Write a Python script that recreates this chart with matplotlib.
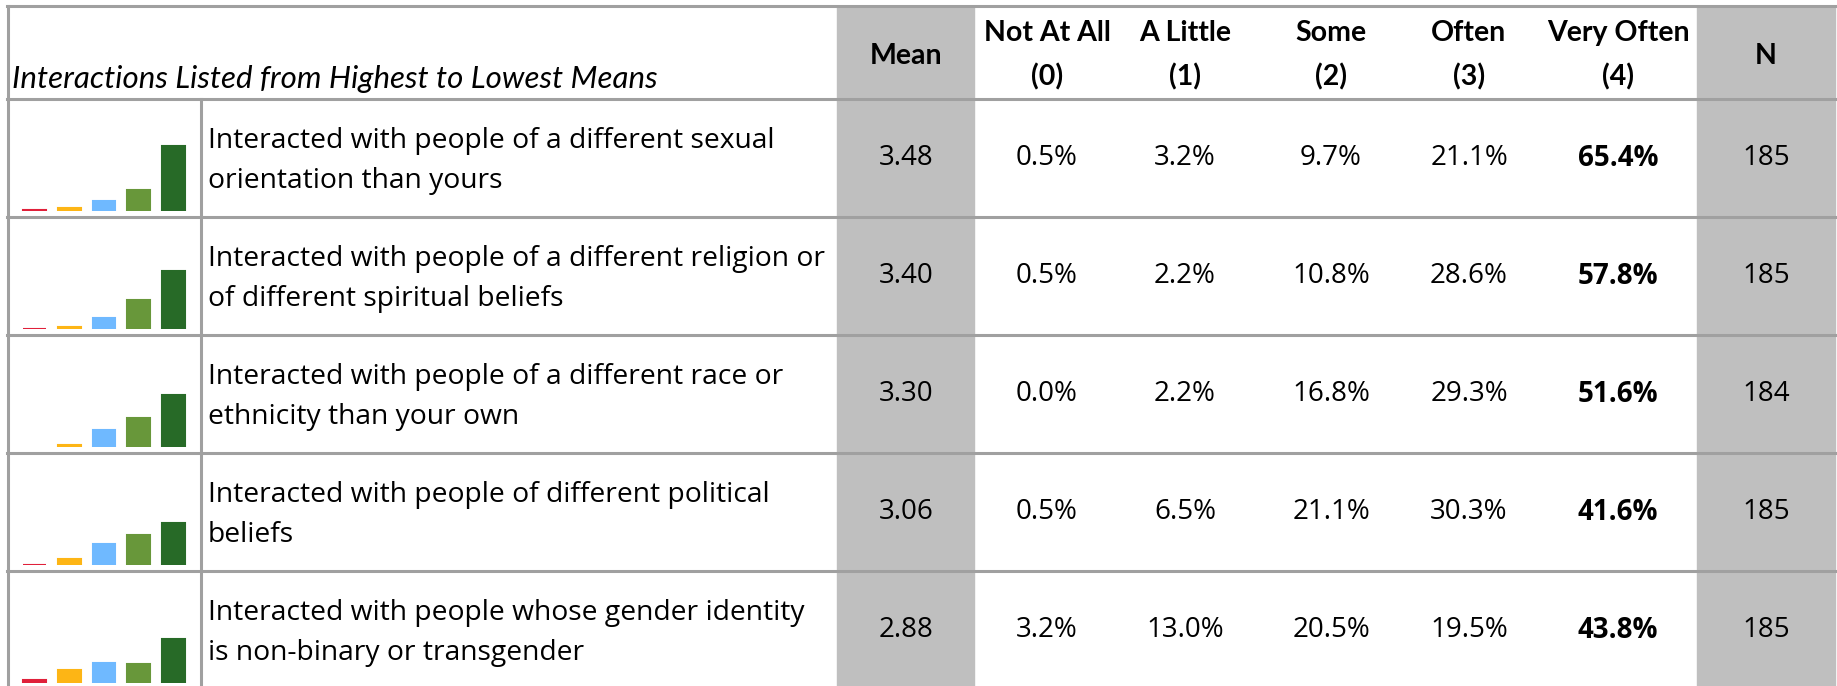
import matplotlib.pyplot as plt
from matplotlib.patches import Rectangle

plt.rcParams['font.family'] = ['Open Sans', 'DejaVu Sans']

# data
items = [
    ['Interacted with people of a different sexual', 'orientation than yours'],
    ['Interacted with people of a different religion or', 'of different spiritual beliefs'],
    ['Interacted with people of a different race or', 'ethnicity than your own'],
    ['Interacted with people of different political', 'beliefs'],
    ['Interacted with people whose gender identity', 'is non-binary or transgender'],
]
means = [3.48, 3.40, 3.30, 3.06, 2.88]
not_at_all = [0.5, 0.5, 0.0, 0.5, 3.2]
a_little = [3.2, 2.2, 2.2, 6.5, 13.0]
some = [9.7, 10.8, 16.8, 21.1, 20.5]
often = [21.1, 28.6, 29.3, 30.3, 19.5]
very_often = [65.4, 57.8, 51.6, 41.6, 43.8]
n_resp = [185, 185, 184, 185, 185]
headers = [('Not At All', '(0)'), ('A Little', '(1)'), ('Some', '(2)'),
           ('Often', '(3)'), ('Very Often', '(4)')]
bar_colors = ['#E0203A', '#FDB515', '#6FB9FF', '#68973A', '#276A27']

W, H = 1837, 686
fig = plt.figure(figsize=(W / 100, H / 100), dpi=100)
ax = fig.add_axes([0, 0, 1, 1])
ax.set_xlim(0, W)
ax.set_ylim(H, 0)
ax.axis('off')

line_c = '#A0A0A0'
shade = '#BFBFBF'
top = 6
head_bot = 99
row_h = 118
pct_x = [1047, 1185, 1331, 1469, 1618]
mean_x = 906
n_x = 1766
body_fs = 20.3
val_fs = 20
head_fs = 20.5

# gray columns
ax.add_patch(Rectangle((837, top), 974 - 837, H - top, color=shade, zorder=0))
ax.add_patch(Rectangle((1697, top), 1835 - 1697, H - top, color=shade, zorder=0))

# borders
ax.plot([7, W], [top, top], color=line_c, lw=2.2)
ax.plot([7.5, 7.5], [top, H], color=line_c, lw=2.2)
ax.plot([200.5, 200.5], [head_bot, H], color=line_c, lw=2.2)
for i in range(len(items)):
    y = head_bot + i * row_h
    ax.plot([7, W], [y, y], color=line_c, lw=2.2)

# header
ax.text(12, 88, 'Interactions Listed from Highest to Lowest Means',
        fontsize=22.5, style='italic', va='baseline', ha='left', family='Lato')
ax.text(mean_x, 56, 'Mean', fontsize=head_fs, weight='bold', ha='center', va='center',
        family='Lato')
ax.text(n_x, 56, 'N', fontsize=head_fs, weight='bold', ha='center', va='center',
        family='Lato')
for x, (a, b) in zip(pct_x, headers):
    ax.text(x, 33, a, fontsize=head_fs, weight='bold', ha='center', va='center', family='Lato')
    ax.text(x, 77, b, fontsize=head_fs, weight='bold', ha='center', va='center', family='Lato')

# rows
cols = [not_at_all, a_little, some, often, very_often]
for i, lines in enumerate(items):
    y0 = head_bot + i * row_h
    yc = y0 + row_h / 2
    ax.text(208, y0 + 49, lines[0], fontsize=body_fs, va='baseline', ha='left')
    ax.text(208, y0 + 89, lines[1], fontsize=body_fs, va='baseline', ha='left')
    ax.text(mean_x, yc, f'{means[i]:.2f}', fontsize=val_fs, ha='center', va='center')
    ax.text(n_x, yc, str(n_resp[i]), fontsize=val_fs, ha='center', va='center')
    vals = [c[i] for c in cols]
    for j, (x, v) in enumerate(zip(pct_x, vals)):
        bold = 'bold' if j == 4 else 'normal'
        ax.text(x, yc, f'{v:.1f}%', fontsize=val_fs, weight=bold, ha='center', va='center')

    # sparkline bar chart in the first cell
    base = y0 + row_h - 6
    sax = fig.add_axes([17 / W, 1 - base / H, 174 / W, 100 / H])
    xs = [k for k in range(5) if vals[k] > 0]
    sax.bar(xs, [vals[k] for k in xs], width=0.66,
            color=[bar_colors[k] for k in xs], edgecolor=[bar_colors[k] for k in xs],
            linewidth=1.5)
    sax.set_xlim(-0.5, 4.5)
    sax.set_ylim(0, 100)
    sax.axis('off')

fig.savefig('out.png', dpi=100)
